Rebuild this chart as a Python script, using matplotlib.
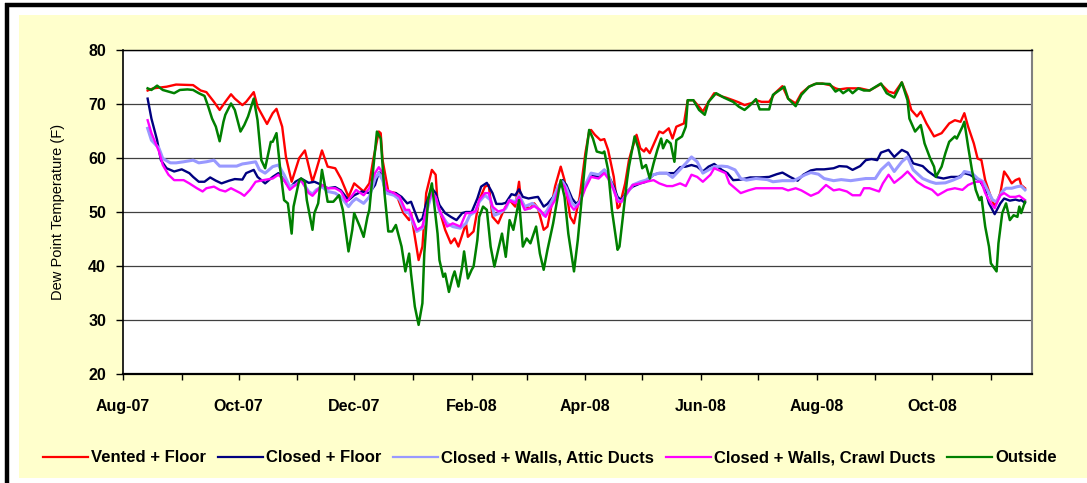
import matplotlib
matplotlib.use("Agg")
import matplotlib.pyplot as plt
import matplotlib.dates as mdates
from matplotlib.lines import Line2D
from matplotlib.patches import Rectangle
from matplotlib import font_manager
import pandas as pd

# ---------------- data (day offsets from 2007-08-01, dew point in F) ----------------
START = pd.Timestamp("2007-08-01")

vented_days = [13, 16, 23, 28, 37, 41, 44, 48, 51, 54, 57, 59, 63, 65, 69, 71, 76, 79, 81, 84, 86, 89, 93, 96,
               100, 102, 105, 108, 112, 115, 119, 122, 127, 130, 132, 135, 136, 137, 140, 144, 148, 151, 152,
               156, 158, 160, 163, 165, 166, 170, 173, 175, 177, 181, 182, 185, 188, 191, 193, 195, 198, 201,
               204, 207, 209, 210, 212, 215, 217, 219, 222, 224, 226, 228, 230, 231, 233, 236, 238, 241, 244,
               246, 247, 249, 252, 254, 256, 259, 261, 262, 265, 267, 268, 271, 273, 275, 276, 278, 281, 283,
               285, 288, 290, 292, 296, 298, 301, 304, 306, 309, 312, 316, 318, 322, 325, 328, 332, 334, 337,
               341, 344, 348, 351, 355, 358, 362, 365, 369, 373, 376, 378, 382, 385, 389, 394, 400, 404, 407,
               411, 414, 416, 419, 421, 424, 428, 432, 436, 439, 442, 444, 446, 449, 451, 453, 455, 458, 460,
               463, 465, 467, 469, 471, 473, 474, 476]
vented_vals = [72.5, 72.9, 73.2, 73.6, 73.5, 72.5, 72.2, 70.4, 68.9, 70.4, 71.8, 71.0, 69.8, 70.4, 72.2, 69.5,
               66.3, 68.3, 69.1, 65.8, 60.2, 55.6, 60.0, 61.4, 55.6, 57.8, 61.4, 58.4, 58.1, 56.2, 52.8, 55.3,
               53.8, 55.3, 59.6, 64.9, 64.6, 59.6, 53.8, 53.5, 49.8, 48.5, 49.8, 41.1, 43.6, 53.5, 57.8, 56.9,
               51.6, 46.7, 44.2, 45.1, 43.6, 47.9, 45.4, 46.4, 52.2, 54.7, 55.0, 49.1, 47.9, 50.4, 52.2, 51.0,
               55.6, 52.2, 51.0, 50.7, 51.6, 50.7, 46.7, 47.3, 51.0, 54.7, 57.2, 58.4, 55.9, 49.1, 47.9, 52.8,
               60.9, 64.9, 65.2, 64.3, 63.3, 63.5, 61.5, 56.5, 50.7, 51.0, 55.3, 59.6, 60.9, 64.3, 61.8, 61.2,
               61.8, 60.9, 63.3, 64.9, 64.6, 65.5, 63.6, 65.8, 66.4, 70.7, 70.7, 69.5, 68.6, 70.4, 72.0, 71.4,
               71.2, 70.7, 70.3, 69.8, 70.2, 70.7, 70.4, 70.4, 72.0, 73.3, 71.0, 70.1, 72.0, 73.2, 73.7, 73.8,
               73.5, 72.9, 72.7, 72.9, 72.9, 72.9, 72.5, 73.7, 72.3, 72.0, 74.0, 71.4, 68.9, 67.7, 68.6, 66.4,
               64.0, 64.6, 66.4, 67.0, 66.7, 68.3, 65.8, 62.7, 59.9, 59.6, 55.9, 52.8, 51.0, 53.5, 57.5, 56.5,
               55.3, 55.9, 56.2, 55.0, 54.4]

closed_days = [13, 15, 18, 20, 23, 27, 31, 35, 37, 40, 43, 46, 49, 52, 56, 59, 63, 65, 69, 71, 75, 79, 82, 85,
               88, 91, 94, 98, 101, 105, 108, 112, 115, 119, 122, 126, 130, 133, 135, 137, 138, 141, 144, 147,
               150, 152, 156, 158, 160, 163, 165, 167, 170, 173, 176, 179, 181, 184, 187, 189, 192, 195, 197,
               200, 202, 205, 207, 209, 211, 214, 217, 219, 222, 224, 227, 230, 232, 234, 237, 239, 241, 244,
               247, 251, 254, 256, 259, 261, 263, 266, 269, 273, 276, 280, 283, 288, 291, 294, 297, 300, 303,
               306, 309, 312, 316, 319, 322, 326, 331, 336, 341, 345, 348, 352, 356, 359, 363, 366, 370, 375,
               378, 382, 385, 389, 392, 395, 398, 400, 404, 407, 411, 414, 417, 422, 425, 429, 433, 437, 441,
               444, 447, 450, 452, 455, 457, 460, 463, 465, 468, 471, 473, 474, 476]
closed_vals = [71.0, 67.3, 63.3, 59.6, 58.1, 57.5, 57.9, 57.2, 56.5, 55.6, 55.6, 56.4, 55.8, 55.3, 55.8, 56.1,
               56.0, 57.2, 57.8, 56.5, 55.3, 56.5, 57.2, 55.9, 54.4, 55.6, 56.2, 55.4, 55.6, 55.0, 54.4, 54.6,
               54.0, 52.2, 53.1, 53.8, 53.5, 55.0, 57.3, 57.2, 54.1, 53.5, 53.5, 52.8, 51.6, 51.9, 48.2, 48.8,
               51.6, 54.4, 53.5, 51.3, 49.8, 49.1, 48.5, 49.8, 50.0, 50.0, 52.5, 54.7, 55.4, 53.5, 51.5, 51.5,
               51.7, 53.3, 53.1, 54.2, 52.8, 52.5, 52.7, 52.8, 51.0, 51.5, 52.8, 54.4, 55.9, 55.0, 52.5, 51.6,
               51.9, 55.0, 56.9, 56.5, 57.8, 56.9, 54.7, 52.8, 52.2, 53.8, 54.7, 55.3, 55.6, 56.9, 57.2, 57.2,
               57.2, 58.3, 58.4, 58.7, 58.4, 57.5, 58.4, 58.9, 57.8, 57.2, 55.9, 56.0, 56.4, 56.4, 56.5, 57.0,
               57.3, 56.5, 55.8, 56.9, 57.7, 57.9, 57.9, 58.1, 58.5, 58.4, 57.8, 58.5, 59.6, 59.8, 59.6, 61.0,
               61.5, 60.2, 61.5, 61.0, 59.0, 58.5, 57.5, 56.5, 56.2, 56.5, 56.5, 57.2, 56.9, 56.2, 55.9, 54.1,
               51.6, 49.6, 51.6, 52.5, 52.1, 52.3, 52.1, 52.2, 51.7]

attic_days = [13, 15, 19, 21, 25, 28, 32, 37, 40, 44, 48, 51, 56, 60, 63, 65, 70, 72, 75, 79, 82, 85, 88, 91,
              94, 98, 100, 102, 105, 108, 112, 115, 119, 121, 123, 127, 130, 133, 135, 137, 139, 143, 146, 149,
              151, 155, 158, 160, 163, 165, 167, 171, 174, 178, 181, 183, 186, 188, 191, 194, 196, 199, 202,
              204, 207, 209, 212, 216, 218, 222, 224, 227, 230, 232, 234, 237, 239, 241, 244, 247, 251, 254,
              256, 259, 261, 263, 266, 269, 273, 276, 280, 283, 287, 290, 293, 297, 300, 303, 306, 309, 312,
              316, 319, 323, 326, 329, 334, 340, 343, 348, 354, 360, 363, 367, 370, 375, 379, 384, 388, 392,
              397, 400, 404, 407, 411, 414, 417, 422, 426, 429, 434, 438, 442, 444, 448, 451, 454, 457, 459,
              461, 464, 466, 469, 472, 474, 476]
attic_vals = [65.5, 63.3, 61.8, 59.9, 59.1, 59.1, 59.3, 59.6, 59.1, 59.3, 59.6, 58.5, 58.5, 58.5, 58.9, 59.0,
              59.3, 57.8, 57.2, 58.4, 58.7, 56.9, 54.7, 55.0, 55.9, 53.8, 53.3, 54.1, 54.7, 53.8, 53.5, 52.8,
              51.0, 51.9, 52.5, 51.6, 52.8, 56.2, 57.2, 55.9, 53.5, 53.1, 52.3, 50.0, 49.8, 46.4, 47.0, 49.8,
              53.5, 52.5, 50.1, 47.9, 47.3, 47.0, 47.9, 49.4, 50.1, 51.9, 53.1, 52.2, 49.4, 49.8, 50.7, 52.2,
              51.9, 53.1, 51.0, 51.6, 51.0, 49.4, 50.4, 52.5, 55.0, 55.6, 54.4, 51.6, 51.0, 51.9, 55.0, 57.2,
              56.9, 57.8, 56.9, 54.1, 52.2, 51.9, 53.5, 55.0, 55.6, 55.9, 56.9, 57.2, 57.2, 56.4, 57.5, 59.0,
              60.2, 59.3, 57.2, 57.8, 58.4, 58.5, 58.4, 57.8, 56.2, 55.9, 56.2, 56.0, 55.6, 55.8, 55.8, 56.9,
              57.3, 57.0, 56.2, 55.8, 56.0, 55.8, 56.0, 56.2, 56.2, 57.8, 59.1, 57.5, 59.3, 60.2, 57.8, 56.2,
              55.6, 55.3, 55.4, 55.9, 56.5, 57.5, 57.2, 56.2, 55.6, 53.5, 52.2, 51.9, 53.8, 54.4, 54.4, 54.7,
              54.8, 54.1]

crawl_days = [13, 15, 19, 21, 24, 27, 32, 35, 39, 42, 44, 48, 51, 54, 57, 62, 64, 67, 70, 74, 79, 82, 85, 88,
              91, 94, 98, 100, 102, 105, 108, 112, 115, 118, 121, 123, 127, 130, 133, 135, 137, 139, 143, 146,
              149, 151, 155, 158, 160, 163, 165, 167, 171, 174, 178, 181, 183, 186, 188, 191, 193, 195, 198,
              201, 204, 207, 209, 212, 215, 217, 220, 223, 225, 228, 231, 233, 236, 238, 241, 244, 247, 251,
              254, 256, 259, 261, 263, 266, 269, 273, 276, 280, 283, 287, 290, 294, 297, 300, 303, 306, 310,
              312, 316, 318, 320, 324, 326, 330, 334, 340, 345, 348, 351, 355, 358, 363, 367, 371, 375, 378,
              382, 385, 389, 391, 394, 399, 401, 404, 407, 411, 414, 419, 423, 427, 430, 435, 439, 443, 446,
              450, 453, 455, 458, 460, 463, 465, 468, 471, 473, 476]
crawl_vals = [67.0, 64.6, 61.2, 58.7, 56.9, 55.9, 55.9, 55.3, 54.4, 53.8, 54.4, 54.7, 54.1, 53.8, 54.4, 53.5,
              53.0, 54.1, 55.6, 55.9, 56.2, 56.9, 55.9, 54.1, 55.0, 55.9, 53.5, 53.0, 53.8, 55.0, 54.4, 54.4,
              53.8, 51.9, 53.1, 54.1, 53.1, 54.4, 57.2, 58.3, 57.2, 54.1, 53.5, 52.8, 50.4, 50.4, 46.7, 47.3,
              50.4, 53.8, 52.8, 50.4, 47.3, 47.9, 47.3, 49.8, 49.8, 50.1, 52.2, 53.5, 53.5, 51.0, 50.1, 50.4,
              52.2, 51.6, 52.8, 50.4, 50.7, 51.1, 50.4, 49.1, 50.4, 52.2, 55.6, 54.7, 51.3, 50.4, 51.6, 54.4,
              56.5, 56.2, 57.2, 56.2, 54.1, 51.9, 51.9, 53.5, 55.0, 55.3, 55.6, 55.9, 55.3, 54.8, 54.8, 55.3,
              54.8, 56.9, 56.5, 55.6, 56.9, 58.1, 57.5, 57.2, 55.3, 54.1, 53.5, 54.0, 54.4, 54.4, 54.4, 54.4,
              54.0, 54.4, 54.0, 53.0, 53.6, 55.0, 54.0, 54.2, 53.8, 53.1, 53.1, 54.4, 54.4, 53.8, 55.3, 56.9,
              55.4, 56.5, 57.5, 55.6, 54.7, 54.1, 53.1, 54.1, 54.4, 54.1, 55.0, 55.6, 55.6, 53.5, 51.6, 50.7,
              53.1, 53.5, 52.8, 52.8, 53.0, 52.2]

outside_days = [13, 15, 18, 21, 25, 27, 30, 34, 37, 40, 43, 45, 47, 49, 51, 53, 54, 57, 59, 62, 64, 66, 69, 71,
                73, 75, 78, 79, 81, 83, 85, 87, 89, 90, 93, 94, 96, 97, 100, 101, 103, 105, 107, 108, 111, 114,
                116, 119, 121, 122, 125, 127, 129, 130, 132, 134, 136, 138, 140, 142, 144, 147, 149, 151, 152,
                154, 156, 158, 159, 161, 163, 166, 167, 169, 170, 172, 174, 175, 177, 179, 180, 182, 184, 185,
                187, 188, 190, 192, 194, 196, 198, 200, 202, 204, 206, 209, 211, 213, 215, 218, 220, 222, 224,
                227, 230, 231, 233, 235, 238, 240, 242, 244, 246, 248, 250, 253, 254, 256, 258, 261, 262, 264,
                266, 267, 270, 272, 274, 276, 278, 280, 282, 284, 285, 287, 289, 291, 292, 295, 297, 298, 301,
                304, 307, 309, 313, 317, 322, 325, 328, 331, 334, 336, 341, 343, 349, 351, 355, 358, 362, 366,
                373, 376, 378, 380, 383, 385, 388, 391, 394, 400, 403, 407, 411, 414, 415, 418, 421, 423, 426,
                428, 429, 432, 434, 436, 439, 440, 443, 444, 446, 448, 450, 452, 453, 455, 457, 458, 461, 462,
                464, 466, 468, 470, 472, 473, 474, 476]
outside_vals = [72.9, 72.6, 73.4, 72.6, 72.2, 72.0, 72.6, 72.7, 72.6, 72.0, 71.5, 69.5, 67.3, 65.8, 63.1, 66.7,
                68.0, 70.1, 68.9, 64.9, 66.1, 67.7, 71.0, 67.0, 59.6, 58.1, 63.0, 63.0, 64.6, 57.8, 52.2, 51.6,
                46.0, 51.0, 55.9, 56.2, 55.6, 52.2, 46.7, 49.8, 51.6, 57.8, 54.0, 51.9, 51.9, 53.1, 50.4, 42.7,
                46.7, 49.8, 47.3, 45.4, 49.1, 50.4, 57.8, 64.9, 63.6, 53.5, 46.4, 46.4, 47.6, 43.6, 39.0, 42.3,
                38.6, 32.5, 29.1, 33.1, 42.3, 52.2, 55.3, 46.0, 41.1, 38.0, 38.6, 35.2, 38.0, 39.0, 36.2, 39.9,
                42.7, 37.7, 39.3, 39.9, 44.8, 49.1, 51.0, 50.4, 43.6, 39.9, 43.0, 46.0, 41.7, 48.5, 46.7, 52.2,
                43.6, 45.1, 44.2, 47.3, 42.3, 39.3, 43.0, 47.9, 54.0, 55.9, 52.8, 46.0, 39.0, 44.8, 52.2, 59.6,
                65.2, 63.6, 61.2, 60.9, 61.2, 57.8, 50.4, 43.0, 43.6, 49.8, 55.9, 58.4, 64.0, 61.8, 58.1, 58.7,
                56.2, 59.0, 61.5, 63.6, 61.8, 63.3, 62.7, 59.3, 63.3, 64.0, 65.8, 70.7, 70.7, 68.9, 68.0, 70.4,
                72.0, 71.2, 70.4, 69.5, 68.9, 69.8, 70.9, 69.0, 69.0, 71.7, 73.2, 71.0, 69.6, 71.7, 73.2, 73.8,
                73.7, 72.3, 72.7, 72.0, 72.7, 72.0, 72.9, 72.5, 72.5, 73.8, 72.0, 71.2, 74.0, 70.7, 67.3, 64.9,
                66.1, 62.7, 59.9, 58.4, 56.5, 58.4, 60.9, 63.0, 64.0, 63.6, 65.8, 66.7, 62.1, 57.8, 54.1, 52.2,
                52.8, 47.3, 43.6, 40.5, 39.0, 44.2, 49.8, 51.6, 48.5, 49.4, 49.1, 51.0, 49.8, 51.9]

series_names = ["Vented + Floor", "Closed + Floor", "Closed + Walls, Attic Ducts",
                "Closed + Walls, Crawl Ducts", "Outside"]
series_days = [vented_days, closed_days, attic_days, crawl_days, outside_days]
series_vals = [vented_vals, closed_vals, attic_vals, crawl_vals, outside_vals]
series_colors = ["#FF0000", "#000080", "#9999FF", "#FF00FF", "#008000"]
series_widths = [1.7, 1.7, 2.2, 1.7, 1.8]

y_ticks = [20, 30, 40, 50, 60, 70, 80]
y_label = "Dew Point Temperature (F)"

# ---------------- fonts ----------------
names = {f.name for f in font_manager.fontManager.ttflist}
narrow = "Liberation Sans Narrow" if "Liberation Sans Narrow" in names else "Liberation Sans"
fam = [narrow, "DejaVu Sans"]

# ---------------- figure ----------------
W, H = 1087, 483
fig = plt.figure(figsize=(W / 100, H / 100), dpi=100)
fig.patch.set_facecolor("white")

def fx(px):
    return px / W

def fy(py):
    return 1 - py / H

# yellow chart area
fig.patches.append(Rectangle((fx(19), fy(478)), fx(W - 19), (478 - 15) / H,
                             transform=fig.transFigure, facecolor="#FFFFCC",
                             edgecolor="none", zorder=-5))
# black frame (top and left)
fig.lines.append(Line2D([fx(5), fx(W)], [fy(5), fy(5)], transform=fig.transFigure,
                        color="black", lw=3.2, solid_capstyle="butt", zorder=-4))
fig.lines.append(Line2D([fx(7), fx(7)], [fy(3), fy(H)], transform=fig.transFigure,
                        color="black", lw=3.2, solid_capstyle="butt", zorder=-4))

ax = fig.add_axes([fx(123), fy(374), fx(1032 - 123), (374 - 50) / H])
ax.set_facecolor("white")

for name, d, v, c, lw in zip(series_names, series_days, series_vals, series_colors, series_widths):
    dates = START + pd.to_timedelta(d, unit="D")
    ax.plot(dates, v, color=c, lw=lw, label=name, solid_joinstyle="round")

ax.set_ylim(20, 80)
ax.set_yticks(y_ticks)
ax.set_xlim(START, START + pd.Timedelta(days=479.7))
ax.xaxis.set_major_locator(mdates.MonthLocator(bymonth=[2, 4, 6, 8, 10, 12]))
ax.xaxis.set_minor_locator(mdates.MonthLocator())
ax.xaxis.set_major_formatter(mdates.DateFormatter("%b-%y"))

ax.grid(axis="y", color="#404040", lw=0.9)
ax.set_axisbelow(True)

ax.tick_params(axis="y", direction="out", length=5.2, width=1, pad=7, labelsize=11.5)
ax.tick_params(axis="x", which="both", direction="out", length=4, width=1, pad=14, labelsize=11.5)
for lab in ax.get_xticklabels() + ax.get_yticklabels():
    lab.set_family(fam)
    lab.set_fontweight("bold")

for s in ["left", "bottom", "top"]:
    ax.spines[s].set_color("black")
ax.spines["left"].set_linewidth(1.2)
ax.spines["bottom"].set_linewidth(1.6)
ax.spines["top"].set_linewidth(1.0)
ax.spines["right"].set_color("#808080")
ax.spines["right"].set_linewidth(1.5)

ax.set_ylabel(y_label, family=fam, fontsize=10.5, labelpad=17)

leg = fig.legend(loc="center", bbox_to_anchor=(fx(550), fy(458)), ncol=5, frameon=False,
                 prop={"family": fam, "weight": "bold", "size": 12},
                 handlelength=2.7, handletextpad=0.2, columnspacing=0.7)
for line in leg.get_lines():
    line.set_linewidth(1.6)

fig.savefig("out.png", dpi=100, facecolor=fig.get_facecolor())
